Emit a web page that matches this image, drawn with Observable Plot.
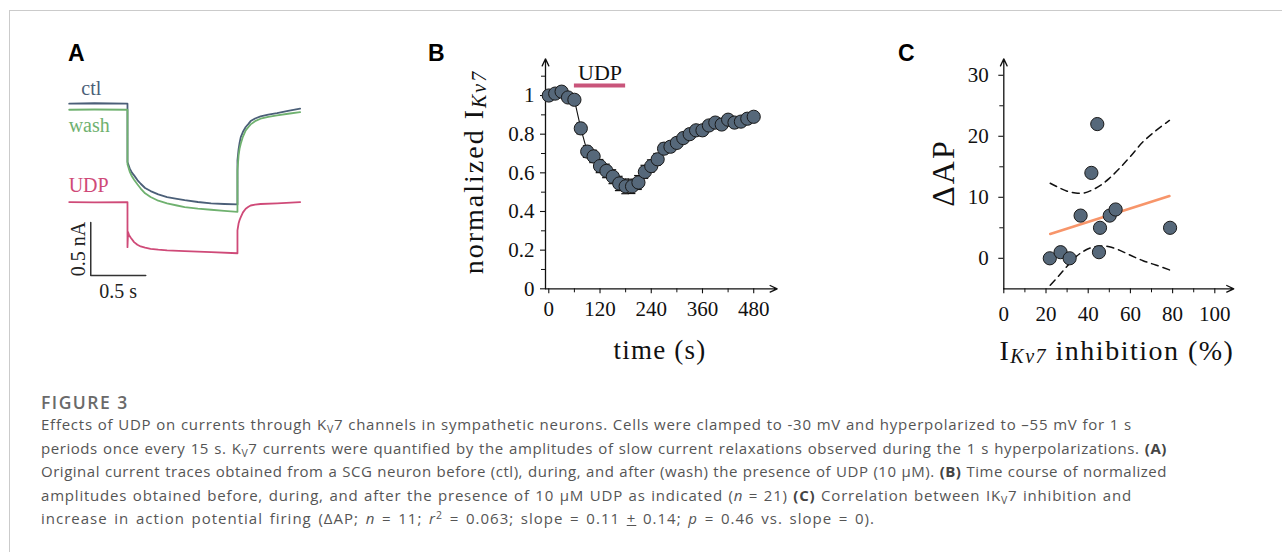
<!DOCTYPE html>
<html>
<head>
<meta charset="utf-8">
<script src="https://cdn.jsdelivr.net/npm/d3@7"></script>
<script src="https://cdn.jsdelivr.net/npm/@observablehq/plot@0.6"></script>
<style>
  html, body { margin: 0; padding: 0; background: #fff; }
  body { width: 1282px; height: 552px; overflow: hidden; position: relative; }
  #frame { position: absolute; left: 9px; top: 10px; right: -2px; bottom: -2px;
           border-top: 1px solid #cbcbcb; border-left: 1px solid #cbcbcb; }
  .panel { position: absolute; }
  .panel svg { overflow: visible; }
  .letter { position: absolute; font: bold 23px "Liberation Sans", Arial, sans-serif; line-height: 23px; color: #000; }
  #caption { position: absolute; left: 41px; top: 391px; font-family: "Open Sans", sans-serif;
             font-size: 15px; color: #555; line-height: 23.6px; white-space: nowrap; }
  #caption .fig { font-weight: 600; color: #6a6a6a; font-size: 17.5px; line-height: 22px; letter-spacing: 1.5px; }
  #caption .ln { text-align: justify; text-align-last: justify; }
  #caption sub { font-size: 0.7em; vertical-align: -0.25em; line-height: 0; }
  #caption sup { font-size: 0.7em; vertical-align: 0.45em; line-height: 0; }
  #caption b { font-weight: 700; color: #444; }
</style>
</head>
<body>
<div id="frame"></div>
<div class="letter" style="left:68px;top:42px">A</div>
<div class="letter" style="left:428px;top:42px">B</div>
<div class="letter" style="left:898px;top:42px">C</div>
<div id="panelA" class="panel" style="left:50px;top:30px"></div>
<div id="panelB" class="panel" style="left:420px;top:30px"></div>
<div id="panelC" class="panel" style="left:890px;top:30px"></div>
<div id="caption">
  <div class="fig">FIGURE 3</div>
  <div class="ln" style="width:1091px;letter-spacing:0.75px">Effects of UDP on currents through K<sub>V</sub>7 channels in sympathetic neurons. Cells were clamped to -30 mV and hyperpolarized to –55 mV for 1 s</div>
  <div class="ln" style="width:1126px;letter-spacing:0.56px">periods once every 15 s. K<sub>V</sub>7 currents were quantified by the amplitudes of slow current relaxations observed during the 1 s hyperpolarizations. <b>(A)</b></div>
  <div class="ln" style="width:1126px;letter-spacing:0.52px">Original current traces obtained from a SCG neuron before (ctl), during, and after (wash) the presence of UDP (10 μM). <b>(B)</b> Time course of normalized</div>
  <div class="ln" style="width:1091px;letter-spacing:0.8px">amplitudes obtained before, during, and after the presence of 10 μM UDP as indicated (<i>n</i> = 21) <b>(C)</b> Correlation between IK<sub>V</sub>7 inhibition and</div>
  <div class="ln" style="width:834px;letter-spacing:1px">increase in action potential firing (ΔAP; <i>n</i> = 11; <i>r</i><sup>2</sup> = 0.063; slope = 0.11 <u>+</u> 0.14; <i>p</i> = 0.46 vs. slope = 0).</div>
</div>
<script>
// ---------------- Panel A: current traces [time (s), current (nA rel. to ctl holding)] ----------------
const ctlTrace = [[-0.53,0],[-0.3,0.004],[0,0],[0,-0.55],[0.02,-0.61],[0.04,-0.65],[0.06,-0.676],[0.09,-0.72],[0.12,-0.755],[0.16,-0.795],[0.21,-0.824],[0.28,-0.855],[0.36,-0.88],[0.45,-0.897],[0.52,-0.91],[0.64,-0.927],[0.76,-0.94],[0.88,-0.946],[1.0,-0.95],[1.0,-0.535],[1.01,-0.43],[1.02,-0.365],[1.03,-0.315],[1.05,-0.265],[1.075,-0.22],[1.1,-0.19],[1.12,-0.164],[1.16,-0.14],[1.21,-0.12],[1.28,-0.103],[1.36,-0.089],[1.46,-0.068],[1.57,-0.047]];
const washTrace = [[-0.53,-0.057],[-0.3,-0.055],[0,-0.057],[0,-0.57],[0.02,-0.64],[0.04,-0.685],[0.06,-0.717],[0.09,-0.76],[0.12,-0.80],[0.16,-0.845],[0.21,-0.88],[0.28,-0.915],[0.36,-0.94],[0.45,-0.96],[0.52,-0.975],[0.64,-0.99],[0.76,-1.0],[0.88,-1.01],[1.0,-1.02],[1.0,-0.63],[1.01,-0.49],[1.02,-0.42],[1.03,-0.377],[1.05,-0.31],[1.075,-0.252],[1.1,-0.22],[1.12,-0.195],[1.16,-0.165],[1.21,-0.142],[1.28,-0.125],[1.36,-0.11],[1.46,-0.095],[1.57,-0.079]];
const udpTrace = [[-0.53,-0.928],[-0.3,-0.93],[0,-0.928],[0,-1.353],[0.005,-1.21],[0.015,-1.24],[0.03,-1.264],[0.06,-1.305],[0.09,-1.33],[0.12,-1.346],[0.16,-1.358],[0.21,-1.368],[0.28,-1.377],[0.36,-1.384],[0.52,-1.39],[0.76,-1.40],[1.0,-1.41],[1.0,-1.195],[1.01,-1.13],[1.02,-1.095],[1.03,-1.07],[1.05,-1.025],[1.075,-0.99],[1.1,-0.972],[1.12,-0.96],[1.16,-0.952],[1.21,-0.946],[1.36,-0.94],[1.57,-0.928]];
const traceNames = ["ctl", "wash", "UDP"];
const traceColors = ["#4b5f78", "#6fb16f", "#cf4a78"];
const traceLabels = [ {name:"ctl", t:-0.42, i:0.145}, {name:"wash", t:-0.535, i:-0.205}, {name:"UDP", t:-0.535, i:-0.77} ];
const scaleBar = {t: -0.334, i: -1.62, dt: 0.5, di: 0.5, tLabel: "0.5 s", iLabel: "0.5 nA"};
const aXDomain = [-0.7, 1.755];
const aYDomain = [-1.95, 0.69];

// ---------------- Panel B: normalized IKv7 time course ----------------
const bTime  = [0,15,30,45,60,75,90,105,120,135,150,165,180,195,210,225,240,255,270,285,300,315,330,345,360,375,390,405,420,435,450,465,480];
const bValue = [1.0,1.01,1.02,0.99,0.978,0.83,0.71,0.685,0.635,0.61,0.58,0.545,0.53,0.53,0.55,0.605,0.635,0.67,0.725,0.735,0.755,0.78,0.80,0.82,0.82,0.845,0.86,0.85,0.875,0.86,0.865,0.88,0.89];
const bErr   = [0.01,0.012,0.012,0.012,0.014,0.028,0.03,0.032,0.034,0.035,0.036,0.037,0.038,0.037,0.036,0.034,0.032,0.03,0.028,0.026,0.025,0.025,0.024,0.024,0.023,0.023,0.022,0.022,0.021,0.021,0.02,0.02,0.02];
const bUDP = {start: 60, end: 180, level: 1.052, label: "UDP"};
const bXTicks = [0,120,240,360,480];
const bXMinor = [60,180,300,420];
const bYTicks = [0,0.2,0.4,0.6,0.8,1];
const bYMinor = [0.1,0.3,0.5,0.7,0.9,1.1];
const bXDomain = [-7.7, 535];
const bYDomain = [0, 1.19];

// ---------------- Panel C: ΔAP vs IKv7 inhibition ----------------
const cX = [21.8,26.9,31.2,36.4,41.5,44.3,45.1,45.6,50.2,53.0,78.8];
const cY = [0,1,0,7,14,22,1,5,7,8,5];
const cFitX = [22, 78.5];
const cFitY = [4.0, 10.2];
const cBandX = [22,26,30,34,38,42,46,50,55,60,66,72,78.5];
const cUpper = [12.3,11.6,11.0,10.7,10.7,11.2,12.0,13.1,14.8,16.7,19.1,20.9,22.6];
const cLower = [-4.4,-2.9,-1.3,0.2,1.2,1.8,2.0,1.9,1.3,0.5,-0.4,-1.1,-1.9];
const cXTicks = [0,20,40,60,80,100];
const cXMinor = [10,30,50,70,90];
const cYTicks = [0,10,20,30];
const cYMinor = [5,15,25];
const cXDomain = [0, 109];
const cYDomain = [-5, 32.7];

const SERIF = "'Liberation Serif', 'DejaVu Serif', serif";
const INK = "#111";
const DOT_FILL = "#56687a";

// ---------- Panel A ----------
{
  const rows = [];
  [ctlTrace, washTrace, udpTrace].forEach((tr, k) => tr.forEach(([t, i]) => rows.push({name: traceNames[k], t, i})));
  const bar = [
    {t: scaleBar.t, i: scaleBar.i + scaleBar.di},
    {t: scaleBar.t, i: scaleBar.i},
    {t: scaleBar.t + scaleBar.dt, i: scaleBar.i}
  ];
  const plotA = Plot.plot({
    width: 270, height: 280, margin: 0,
    x: {domain: aXDomain, axis: null},
    y: {domain: aYDomain, axis: null},
    color: {domain: traceNames, range: traceColors},
    style: {fontFamily: SERIF, fontSize: "20px", background: "transparent", overflow: "visible"},
    marks: [
      Plot.line(rows, {x: "t", y: "i", z: "name", stroke: "name", strokeWidth: 1.8, curve: "linear"}),
      Plot.line(bar, {x: "t", y: "i", stroke: "#333", strokeWidth: 1.5}),
      Plot.text(traceLabels, {x: "t", y: "i", text: "name", fill: d => d.name, textAnchor: "start", fontSize: 20, letterSpacing: 0.5}),
      Plot.text([scaleBar], {x: d => d.t - 0.11, y: d => d.i + d.di / 2, text: "iLabel", rotate: -90, fill: "#222", fontSize: 20}),
      Plot.text([scaleBar], {x: d => d.t + d.dt / 2, y: d => d.i - 0.15, text: "tLabel", fill: "#222", fontSize: 20})
    ]
  });
  document.getElementById("panelA").appendChild(plotA);
}

// ---------- Panel B ----------
{
  const rows = bTime.map((t, k) => ({t, v: bValue[k], e: bErr[k]}));
  const plotB = Plot.plot({
    width: 370, height: 340,
    marginLeft: 125, marginRight: 13.3, marginTop: 28.3, marginBottom: 81.7,
    x: {domain: bXDomain},
    y: {domain: bYDomain},
    style: {fontFamily: SERIF, fontSize: "21px", color: INK, background: "transparent", overflow: "visible"},
    marks: [
      Plot.axisX({ticks: bXMinor, tickSize: 4, tickFormat: () => "", label: null, strokeWidth: 1}),
      Plot.axisY({ticks: bYMinor, tickSize: 4, tickFormat: () => "", label: null, strokeWidth: 1}),
      Plot.axisX({ticks: bXTicks, tickSize: 5, tickPadding: 7, tickFormat: d => String(d), label: null, strokeWidth: 1.1, fontSize: 21}),
      Plot.axisY({ticks: bYTicks, tickSize: 5, tickPadding: 6, tickFormat: d => String(d), label: null, strokeWidth: 1.1, fontSize: 21}),
      Plot.arrow([{x1: bXDomain[0], y1: bYDomain[0], x2: bXDomain[1], y2: bYDomain[0]},
                  {x1: bXDomain[0], y1: bYDomain[0], x2: bXDomain[0], y2: bYDomain[1]}],
                 {x1: "x1", y1: "y1", x2: "x2", y2: "y2", stroke: INK, strokeWidth: 1.3, headLength: 9, headAngle: 50}),
      Plot.ruleY([bUDP], {y: "level", x1: "start", x2: "end", stroke: "#c9557b", strokeWidth: 4}),
      Plot.text([bUDP], {x: d => (d.start + d.end) / 2, y: d => d.level, text: "label", dy: -13, fontSize: 22, fill: INK, letterSpacing: 0.6}),
      Plot.ruleX(rows, {x: "t", y1: d => d.v - d.e, y2: d => d.v + d.e, stroke: INK, strokeWidth: 1}),
      Plot.ruleY(rows, {y: d => d.v - d.e, x1: d => d.t - 9, x2: d => d.t + 9, stroke: INK, strokeWidth: 1.2}),
      Plot.ruleY(rows, {y: d => d.v + d.e, x1: d => d.t - 9, x2: d => d.t + 9, stroke: INK, strokeWidth: 1.2}),
      Plot.line(rows, {x: "t", y: "v", stroke: INK, strokeWidth: 1.1}),
      Plot.dot(rows, {x: "t", y: "v", r: 6.6, fill: DOT_FILL, stroke: "#1a1a1a", strokeWidth: 1})
    ]
  });
  const svg = d3.select(plotB);
  const yl = svg.append("text")
    .attr("transform", "translate(53,142) rotate(-90)")
    .attr("text-anchor", "middle").attr("dominant-baseline", "central")
    .attr("font-family", SERIF).attr("font-size", 28).attr("letter-spacing", 2).attr("fill", INK);
  yl.append("tspan").text("normalized I");
  yl.append("tspan").attr("font-style", "italic").attr("font-size", 20).attr("dy", 6).text("Kv7");
  svg.append("text")
    .attr("x", 240).attr("y", 320)
    .attr("text-anchor", "middle").attr("dominant-baseline", "central")
    .attr("font-family", SERIF).attr("font-size", 27).attr("letter-spacing", 1.2).attr("fill", INK)
    .text("time (s)");
  document.getElementById("panelB").appendChild(plotB);
}

// ---------- Panel C ----------
{
  const pts = cX.map((x, k) => ({x, y: cY[k]}));
  const fit = cFitX.map((x, k) => ({x, y: cFitY[k]}));
  const upper = cBandX.map((x, k) => ({x, y: cUpper[k]}));
  const lower = cBandX.map((x, k) => ({x, y: cLower[k]}));
  const plotC = Plot.plot({
    width: 360, height: 340,
    marginLeft: 113.3, marginRight: 16.7, marginTop: 28.3, marginBottom: 81.7,
    x: {domain: cXDomain},
    y: {domain: cYDomain},
    style: {fontFamily: SERIF, fontSize: "21px", color: INK, background: "transparent", overflow: "visible"},
    marks: [
      Plot.axisX({ticks: cXMinor, tickSize: 4, tickFormat: () => "", label: null, strokeWidth: 1}),
      Plot.axisY({ticks: cYMinor, tickSize: 4, tickFormat: () => "", label: null, strokeWidth: 1}),
      Plot.axisX({ticks: cXTicks, tickSize: 5, tickPadding: 12, tickFormat: d => String(d), label: null, strokeWidth: 1.1, fontSize: 21}),
      Plot.axisY({ticks: cYTicks, tickSize: 5, tickPadding: 10, tickFormat: d => String(d), label: null, strokeWidth: 1.1, fontSize: 21}),
      Plot.arrow([{x1: cXDomain[0], y1: cYDomain[0], x2: cXDomain[1], y2: cYDomain[0]},
                  {x1: cXDomain[0], y1: cYDomain[0], x2: cXDomain[0], y2: cYDomain[1]}],
                 {x1: "x1", y1: "y1", x2: "x2", y2: "y2", stroke: INK, strokeWidth: 1.3, headLength: 9, headAngle: 50}),
      Plot.line(upper, {x: "x", y: "y", stroke: INK, strokeWidth: 1.5, strokeDasharray: "7,5", curve: "catmull-rom"}),
      Plot.line(lower, {x: "x", y: "y", stroke: INK, strokeWidth: 1.5, strokeDasharray: "7,5", curve: "catmull-rom"}),
      Plot.line(fit, {x: "x", y: "y", stroke: "#f7956a", strokeWidth: 2.6}),
      Plot.dot(pts, {x: "x", y: "y", r: 6.6, fill: DOT_FILL, stroke: "#1a1a1a", strokeWidth: 1})
    ]
  });
  const svg = d3.select(plotC);
  svg.append("text")
    .attr("transform", "translate(53,143) rotate(-90)")
    .attr("text-anchor", "middle").attr("dominant-baseline", "central")
    .attr("font-family", SERIF).attr("font-size", 32).attr("letter-spacing", 2).attr("fill", INK)
    .text("ΔAP");
  const xl = svg.append("text")
    .attr("x", 227).attr("y", 320)
    .attr("text-anchor", "middle").attr("dominant-baseline", "central")
    .attr("font-family", SERIF).attr("font-size", 28).attr("letter-spacing", 1.5).attr("fill", INK);
  xl.append("tspan").text("I");
  xl.append("tspan").attr("font-style", "italic").attr("font-size", 20).attr("dy", 6).text("Kv7");
  xl.append("tspan").attr("dy", -6).text(" inhibition (%)");
  document.getElementById("panelC").appendChild(plotC);
}
</script>
</body>
</html>
